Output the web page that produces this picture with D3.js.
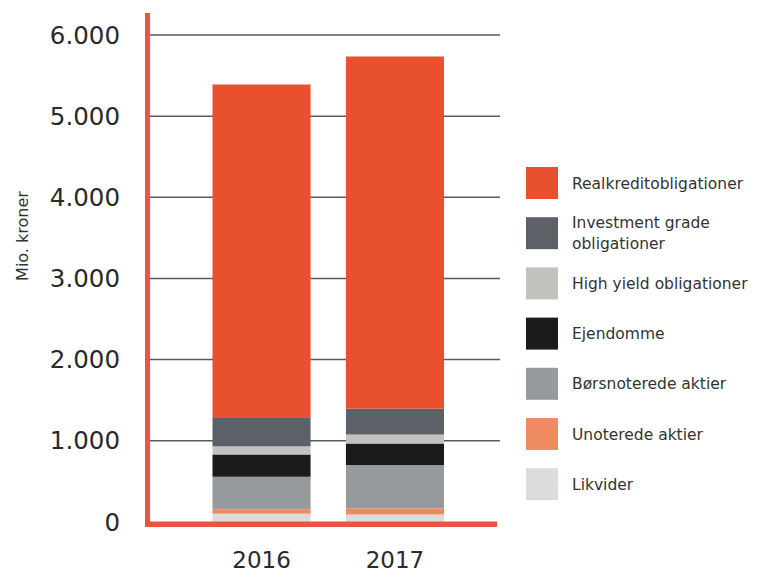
<!DOCTYPE html>
<html>
<head>
<meta charset="utf-8">
<script src="https://cdn.jsdelivr.net/npm/d3@7"></script>
<style>
  html, body { margin: 0; padding: 0; background: #ffffff; }
  svg { display: block; }
</style>
</head>
<body>
<svg id="chart" width="761" height="576"></svg>
<script>
// ---- data ----
const years = ["2016", "2017"];
const seriesNames = [
  "Likvider",
  "Unoterede aktier",
  "Børsnoterede aktier",
  "Ejendomme",
  "High yield obligationer",
  "Investment grade obligationer",
  "Realkreditobligationer"
];
const likvider        = [100, 90];
const unoterede       = [55, 75];
const borsnoterede    = [400, 535];
const ejendomme       = [275, 265];
const highYield       = [100, 110];
const investmentGrade = [350, 320];
const realkredit      = [4110, 4340];
const yTicks = [0, 1000, 2000, 3000, 4000, 5000, 6000];
const yTickLabels = ["0", "1.000", "2.000", "3.000", "4.000", "5.000", "6.000"];
const legendOrder = [
  "Realkreditobligationer",
  "Investment grade obligationer",
  "High yield obligationer",
  "Ejendomme",
  "Børsnoterede aktier",
  "Unoterede aktier",
  "Likvider"
];
const legendLabels = {
  "Realkreditobligationer": ["Realkreditobligationer"],
  "Investment grade obligationer": ["Investment grade", "obligationer"],
  "High yield obligationer": ["High yield obligationer"],
  "Ejendomme": ["Ejendomme"],
  "Børsnoterede aktier": ["Børsnoterede aktier"],
  "Unoterede aktier": ["Unoterede aktier"],
  "Likvider": ["Likvider"]
};
const colors = {
  "Realkreditobligationer": "#e8502e",
  "Investment grade obligationer": "#5b6166",
  "High yield obligationer": "#c3c2bf",
  "Ejendomme": "#1b1b1b",
  "Børsnoterede aktier": "#979a9d",
  "Unoterede aktier": "#ee8b62",
  "Likvider": "#dcdcdc"
};
const seriesValues = {
  "Likvider": likvider,
  "Unoterede aktier": unoterede,
  "Børsnoterede aktier": borsnoterede,
  "Ejendomme": ejendomme,
  "High yield obligationer": highYield,
  "Investment grade obligationer": investmentGrade,
  "Realkreditobligationer": realkredit
};

// table for stack
const table = years.map((y, i) => {
  const row = { year: y };
  seriesNames.forEach(s => row[s] = seriesValues[s][i]);
  return row;
});

const svg = d3.select("#chart");
const FONT = "'DejaVu Sans', sans-serif";
const axisOrange = "#e9553f";

const y = d3.scaleLinear().domain([0, 6000]).range([521.8, 35]);
const x = d3.scaleBand().domain(years).range([212.5, 444]).paddingInner(0.265).paddingOuter(0);

// gridlines
svg.append("g").selectAll("line")
  .data(yTicks.filter(d => d > 0))
  .join("line")
  .attr("x1", 148).attr("x2", 500)
  .attr("y1", d => y(d)).attr("y2", d => y(d))
  .attr("stroke", "#5a5a5a").attr("stroke-width", 1.5);

// stacked bars
const stack = d3.stack().keys(seriesNames)(table);
svg.append("g").selectAll("g")
  .data(stack)
  .join("g")
  .attr("fill", d => colors[d.key])
  .selectAll("rect")
  .data(d => d)
  .join("rect")
  .attr("x", d => x(d.data.year))
  .attr("width", x.bandwidth())
  .attr("y", d => y(d[1]))
  .attr("height", d => y(d[0]) - y(d[1]));

// y tick labels
svg.append("g").selectAll("text")
  .data(yTicks)
  .join("text")
  .attr("x", 120)
  .attr("y", d => y(d))
  .attr("dy", "0.36em")
  .attr("text-anchor", "end")
  .attr("font-family", FONT)
  .attr("font-size", 24.5)
  .attr("fill", "#2a2a2a")
  .text((d, i) => yTickLabels[i]);

// y axis title
svg.append("text")
  .attr("transform", "translate(28,236) rotate(-90)")
  .attr("text-anchor", "middle")
  .attr("font-family", FONT)
  .attr("font-size", 16)
  .attr("fill", "#333")
  .text("Mio. kroner");

// orange axes
svg.append("line")
  .attr("x1", 147.5).attr("x2", 147.5)
  .attr("y1", 13).attr("y2", 527)
  .attr("stroke", axisOrange).attr("stroke-width", 5);
svg.append("line")
  .attr("x1", 145).attr("x2", 497)
  .attr("y1", 524.3).attr("y2", 524.3)
  .attr("stroke", axisOrange).attr("stroke-width", 5.5);

// x labels
svg.append("g").selectAll("text")
  .data(years)
  .join("text")
  .attr("x", d => x(d) + x.bandwidth() / 2)
  .attr("y", 568)
  .attr("text-anchor", "middle")
  .attr("font-family", FONT)
  .attr("font-size", 23)
  .attr("fill", "#2a2a2a")
  .text(d => d);

// legend
const lg = svg.append("g");
const legendTop = 167, legendStep = 50.2, sw = 32;
legendOrder.forEach((name, i) => {
  const top = legendTop + i * legendStep;
  lg.append("rect")
    .attr("x", 526).attr("y", top)
    .attr("width", sw).attr("height", sw)
    .attr("fill", colors[name]);
  const lines = legendLabels[name];
  const lh = 21;
  lines.forEach((t, j) => {
    lg.append("text")
      .attr("x", 572)
      .attr("y", top + sw / 2 + (j - (lines.length - 1) / 2) * lh)
      .attr("dy", "0.36em")
      .attr("font-family", FONT)
      .attr("font-size", 15.5)
      .attr("fill", "#333")
      .text(t);
  });
});
</script>
</body>
</html>
